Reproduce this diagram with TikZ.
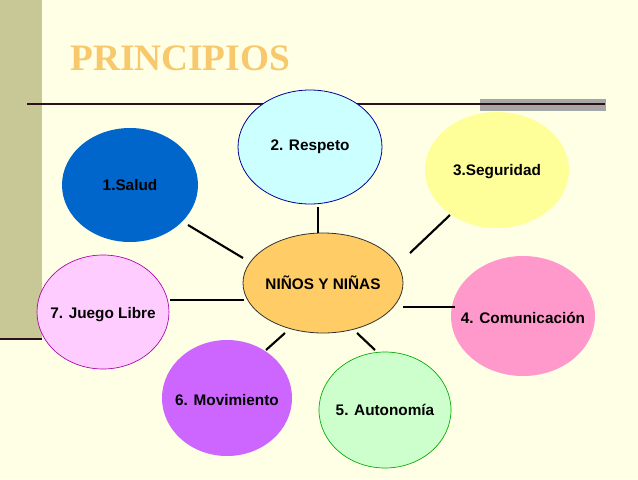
\documentclass[tikz,border=0pt]{standalone}
\usepackage{fontspec}
\setmainfont{Liberation Sans}
\newfontfamily\titlefont{Liberation Serif}
\usetikzlibrary{shapes.geometric}
\definecolor{bg}{HTML}{FFFFE5}
\definecolor{barc}{HTML}{C8C896}
\definecolor{titlec}{HTML}{F8C86C}
\definecolor{c1}{HTML}{0066CC}
\definecolor{c2}{HTML}{CCFFFF}
\definecolor{c2d}{HTML}{000096}
\definecolor{c3}{HTML}{FFFF99}
\definecolor{c4}{HTML}{FF99CC}
\definecolor{c5}{HTML}{CCFFCC}
\definecolor{c5d}{HTML}{00AA00}
\definecolor{c6}{HTML}{CC66FF}
\definecolor{c7}{HTML}{FFCCFF}
\definecolor{c7d}{HTML}{AA00AA}
\definecolor{cc}{HTML}{FFCC66}
\definecolor{linec}{HTML}{301018}
\begin{document}
\begin{tikzpicture}[x=0.75pt,y=-0.75pt,
  lbl/.style={font=\fontsize{11.5}{13}\selectfont\bfseries,text=black},
  conn/.style={line width=1.6pt,black}]
\fill[bg] (0,0) rectangle (638,479);
\useasboundingbox (0,0) rectangle (638,479);
\fill[barc] (0,0) rectangle (42,338);
\draw[line width=1.5pt,linec] (0,339) -- (42,339);
\node[anchor=base west,font=\titlefont\fontsize{28}{30}\selectfont\bfseries,text=titlec,inner sep=0] (title) at (70,70) {PRINCIPIOS};
\fill[gray!70] (480,99) rectangle (606,111);
\draw[line width=0.9pt,linec] (27,104) -- (605,104);
\fill[c1] (130,185) ellipse [x radius=68,y radius=57];
\node[lbl] (n1) at (130,185) {1.Salud};
\filldraw[fill=c2,draw=c2d,line width=0.6pt] (310,147) ellipse [x radius=72,y radius=57];
\node[lbl] (n2) at (310,147) {2. Respeto};
\fill[c3] (497,170) ellipse [x radius=72,y radius=58];
\node[lbl] (n3) at (497,172) {3.Seguridad};
\fill[c4] (523,316) ellipse [x radius=72,y radius=60];
\node[lbl] (n4) at (523,318) {4. Comunicación};
\filldraw[fill=c5,draw=c5d,line width=0.5pt] (385,410) ellipse [x radius=66,y radius=58];
\node[lbl] (n5) at (385,410) {5. Autonomía};
\fill[c6] (227,398) ellipse [x radius=65,y radius=58];
\node[lbl] (n6) at (227,400) {6. Movimiento};
\filldraw[fill=c7,draw=c7d,line width=0.5pt] (103,312) ellipse [x radius=66,y radius=57];
\node[lbl] (n7) at (103,315) {7. Juego Libre};
\filldraw[fill=cc,draw=black!80,line width=0.6pt] (323,283) ellipse [x radius=80,y radius=50];
\node[lbl] (c) at (323,283) {NIÑOS Y NIÑAS};
\coordinate (a1) at (188,225); \coordinate (b1) at (243,258);
\coordinate (a2) at (318,207); \coordinate (b2) at (318,233);
\coordinate (a3) at (450,215); \coordinate (b3) at (410,253);
\coordinate (a4) at (403,307); \coordinate (b4) at (455,307);
\coordinate (a5) at (357,333); \coordinate (b5) at (375,350);
\coordinate (a6) at (285,333); \coordinate (b6) at (266,350);
\coordinate (a7) at (170,300); \coordinate (b7) at (244,300);
\foreach \i in {1,...,7} \draw[conn] (a\i) -- (b\i);
\end{tikzpicture}
\end{document}
